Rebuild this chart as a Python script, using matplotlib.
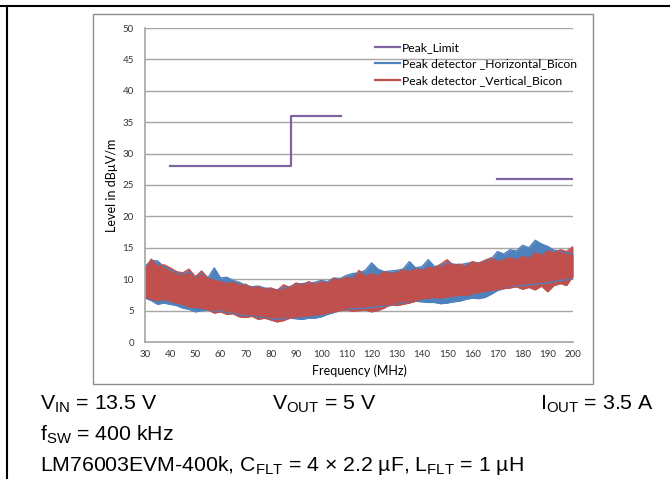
import numpy as np
import matplotlib
matplotlib.use("Agg")
import matplotlib.pyplot as plt
from matplotlib.patches import Rectangle
from matplotlib.lines import Line2D

# limit line (NaN splits the two segments)
limit_freq = [40, 88, 88, 108, np.nan, 170, 200]
limit_level = [28, 28, 36, 36, np.nan, 26, 26]

freq = np.arange(30, 200.1, 2.5)

red_hi = [11.5, 13.2, 12.0, 12.3, 11.8, 11.2, 11.0, 11.6, 10.4, 11.3, 10.2, 9.8,
          9.6, 9.3, 9.5, 9.0, 9.2, 8.6, 8.8, 8.4, 8.6, 8.2, 9.1, 8.7,
          9.4, 9.1, 9.6, 9.2, 9.6, 9.3, 10.1, 9.9, 10.3, 10.0, 11.4, 10.4,
          10.9, 10.5, 11.2, 10.9, 11.0, 11.5, 11.2, 11.6, 11.4, 11.9, 11.8, 12.4,
          13.1, 12.2, 12.4, 12.0, 12.8, 12.5, 13.0, 13.4, 12.8, 13.1, 13.4, 13.1,
          13.6, 13.3, 14.2, 13.8, 14.5, 14.2, 14.7, 14.4, 15.2]
red_lo = [7.2, 6.8, 6.6, 6.8, 6.5, 6.2, 6.0, 5.6, 5.5, 5.4, 5.2, 4.6,
          4.8, 4.4, 4.5, 4.0, 3.9, 4.1, 3.6, 3.8, 3.5, 3.2, 3.4, 3.8,
          4.0, 4.1, 4.2, 4.3, 4.4, 4.6, 4.8, 5.0, 5.1, 4.9, 5.0, 5.1,
          4.8, 5.0, 5.4, 6.0, 5.8, 6.0, 6.2, 6.5, 6.9, 7.0, 7.1, 7.0,
          7.2, 7.3, 7.5, 7.4, 7.7, 7.9, 8.1, 8.2, 8.4, 8.5, 8.6, 8.8,
          8.4, 8.7, 8.3, 8.9, 8.0, 9.0, 9.3, 9.0, 10.5]
blue_hi = [12.0, 13.0, 12.9, 12.0, 11.5, 11.0, 10.8, 11.2, 10.3, 11.0, 10.2, 11.8,
           10.2, 10.3, 9.8, 9.5, 9.0, 8.8, 8.9, 8.6, 8.5, 8.3, 8.6, 8.8,
           9.2, 9.3, 9.4, 9.5, 9.8, 9.6, 10.2, 10.1, 10.6, 10.9, 11.0, 11.4,
           12.6, 11.6, 11.2, 11.3, 11.4, 11.6, 12.8, 11.8, 12.0, 13.1, 12.0, 12.2,
           12.6, 12.4, 12.3, 12.5, 12.7, 12.6, 12.9, 13.2, 14.4, 14.0, 14.7, 14.5,
           15.4, 15.0, 16.2, 15.6, 15.2, 14.6, 14.5, 14.2, 14.0]
blue_lo = [7.0, 6.6, 6.0, 6.2, 6.0, 5.8, 5.4, 5.2, 4.8, 5.0, 5.1, 4.8,
           5.0, 4.6, 4.6, 4.3, 4.1, 4.2, 3.9, 3.9, 3.7, 3.6, 3.7, 3.8,
           3.7, 3.6, 3.8, 3.8, 4.0, 4.4, 4.7, 5.0, 5.2, 5.3, 5.3, 5.4,
           5.5, 5.6, 5.7, 5.8, 6.0, 6.2, 6.3, 6.5, 6.4, 6.3, 6.3, 6.1,
           6.2, 6.4, 6.5, 6.8, 7.0, 6.9, 7.1, 7.6, 8.2, 8.5, 8.7, 8.9,
           9.0, 9.1, 9.2, 9.3, 9.4, 9.6, 9.8, 9.9, 10.1]

x_ticks = list(range(30, 201, 10))
y_ticks = list(range(0, 51, 5))

purple = "#8064A2"
blue = "#4F81BD"
red = "#C0504D"
grid_col = "#A6A6A6"
chart_font = ["Lato", "DejaVu Sans"]

plt.rcParams["mathtext.default"] = "regular"

W, H = 670, 479
fig = plt.figure(figsize=(W / 100, H / 100), dpi=100)

# outer frame lines
fig.add_artist(Line2D([0, 1], [1 - 6 / H, 1 - 6 / H], color="black", lw=1.5))
fig.add_artist(Line2D([7 / W, 7 / W], [0, 1 - 6 / H], color="black", lw=1.5))

# chart area border
fig.add_artist(Rectangle((93 / W, 1 - 384 / H), 500 / W, 370 / H,
                         fill=False, edgecolor="#8C8C8C", lw=1))

ax = fig.add_axes([145 / W, 1 - 342 / H, 428 / W, 314 / H])

ax.fill_between(freq, blue_lo, blue_hi, color=blue, lw=0)
ax.plot(freq, blue_hi, color=blue, lw=1)
ax.plot(freq, blue_lo, color=blue, lw=1)
ax.fill_between(freq, red_lo, red_hi, color=red, lw=0)
ax.plot(freq, red_hi, color=red, lw=1)
ax.plot(freq, red_lo, color=red, lw=1)
ax.plot(limit_freq, limit_level, color=purple, lw=1.6)

ax.set_xlim(30, 200)
ax.set_ylim(0, 50)
ax.set_xticks(x_ticks)
ax.set_yticks(y_ticks)
ax.tick_params(length=0, labelsize=7, colors="#333333")
ax.tick_params(axis="x", pad=6)
ax.tick_params(axis="y", pad=8)
for lab in ax.get_xticklabels() + ax.get_yticklabels():
    lab.set_family(chart_font)
ax.grid(axis="y", color=grid_col, lw=1)
ax.set_axisbelow(True)
for s in ["top", "right"]:
    ax.spines[s].set_visible(False)
for s in ["left", "bottom"]:
    ax.spines[s].set_color(grid_col)
    ax.spines[s].set_linewidth(1.2)

ax.set_xlabel("Frequency (MHz)", family=chart_font, fontsize=9, labelpad=4)
ax.set_ylabel("Level in dBµV/m", family=chart_font, fontsize=9, labelpad=3)

handles = [Line2D([], [], color=c, lw=1.6) for c in (purple, blue, red)]
labels = ["Peak_Limit", "Peak detector _Horizontal_Bicon",
          "Peak detector _Vertical_Bicon"]
ax.legend(handles, labels, loc="upper left",
          bbox_to_anchor=(0.537, 0.955), frameon=False, borderpad=0,
          borderaxespad=0, handlelength=2.1, handletextpad=0.15,
          labelspacing=0.45, prop={"family": chart_font, "size": 8.7})

# conditions text below the chart
tfont = dict(family=["Liberation Sans", "DejaVu Sans"], fontsize=15.3, va="baseline")
fig.text(40 / W, 1 - 410 / H, "$V_{IN}$ = 13.5 V", **tfont)
fig.text(272 / W, 1 - 410 / H, "$V_{OUT}$ = 5 V", **tfont)
fig.text(540 / W, 1 - 410 / H, "$I_{OUT}$ = 3.5 A", **tfont)
fig.text(40 / W, 1 - 441 / H, "$f_{SW}$ = 400 kHz", **tfont)
fig.text(40 / W, 1 - 471 / H,
         "LM76003EVM-400k, $C_{FLT}$ = 4 × 2.2 µF, $L_{FLT}$ = 1 µH", **tfont)

fig.savefig("out.png", dpi=100)
